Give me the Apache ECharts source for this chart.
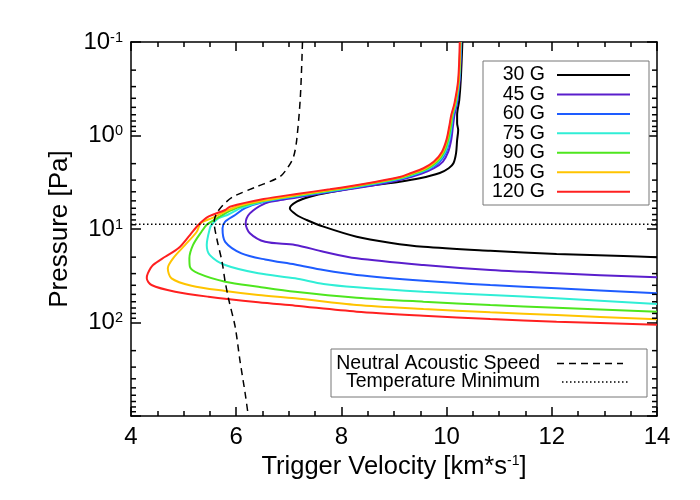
<!DOCTYPE html>
<html><head><meta charset="utf-8">
<script src="https://cdn.jsdelivr.net/npm/echarts@6/dist/echarts.min.js"></script>
<style>html,body{margin:0;padding:0;background:#fff}#c{width:700px;height:500px}</style>
</head><body><div id="c"></div>
<script>
// ---- data (velocity km/s, pressure Pa) ----
const fieldLabels = ['30 G','45 G','60 G','75 G','90 G','105 G','120 G'];
const fieldColors = ['#000000','#5a1ecc','#1e5cff','#30eed6','#4ee61e','#ffc400','#ff2020'];
const xTickValues = [4,6,8,10,12,14];
const yDecades = [0.1,1,10,100,1000];

const curve30 = [[10.30,0.1],[10.27,0.25],[10.24,0.42],[10.20,0.6],[10.20,0.74],[10.22,0.873],[10.20,1.12],[10.18,1.54],[10.13,1.98],[10.04,2.24],[9.87,2.52],[9.49,2.87],[9.11,3.12],[8.42,3.51],[7.78,4.05],[7.40,4.52],[7.15,5.11],[7.02,6.01],[7.15,7.09],[7.34,8.01],[7.66,9.44],[8.29,12.1],[8.92,14.0],[9.56,15.5],[10.83,17.1],[12.09,18.5],[13.36,19.4],[14.0,20.1]];
const curve45 = [[10.28,0.1],[10.25,0.255],[10.20,0.45],[10.15,0.6],[10.12,0.8],[10.09,1.1],[10.03,1.5],[9.93,1.9],[9.76,2.24],[9.53,2.55],[9.11,2.99],[8.42,3.56],[7.78,4.02],[7.15,4.6],[6.80,4.95],[6.55,5.31],[6.26,6.80],[6.18,8.69],[6.26,11.1],[6.55,13.7],[7.12,14.8],[7.66,17.5],[8.29,20.6],[9.56,24.3],[10.83,27.5],[12.09,29.8],[14.0,32.9]];
const curve60 = [[10.27,0.1],[10.24,0.255],[10.19,0.45],[10.13,0.6],[10.10,0.8],[10.06,1.1],[9.99,1.5],[9.87,1.9],[9.70,2.24],[9.46,2.55],[9.11,2.92],[8.42,3.47],[7.78,3.97],[7.15,4.48],[6.52,5.14],[6.17,5.96],[5.98,7.09],[5.79,8.35],[5.74,9.84],[5.79,13.7],[6.10,18.2],[6.55,21.2],[7.12,24.0],[7.66,27.5],[8.29,31.0],[9.56,35.7],[10.83,39.7],[12.09,43.1],[14.0,48.8]];
const curve75 = [[10.27,0.1],[10.24,0.255],[10.18,0.45],[10.12,0.6],[10.09,0.8],[10.05,1.1],[9.97,1.5],[9.84,1.9],[9.67,2.24],[9.42,2.55],[9.11,2.88],[8.42,3.43],[7.78,3.93],[7.15,4.43],[6.52,5.08],[6.10,5.95],[5.85,7.0],[5.66,7.69],[5.54,8.9],[5.50,9.84],[5.44,14.8],[5.50,19.0],[5.79,24.3],[6.42,29.8],[7.12,33.7],[7.66,38.7],[8.29,42.0],[9.56,46.9],[10.83,50.8],[12.09,55.1],[14.0,63.4]];
const curve90 = [[10.26,0.1],[10.23,0.255],[10.17,0.45],[10.11,0.6],[10.08,0.8],[10.03,1.1],[9.95,1.5],[9.82,1.9],[9.64,2.24],[9.38,2.55],[9.11,2.85],[8.42,3.38],[7.78,3.87],[7.15,4.38],[6.52,5.0],[6.07,5.8],[5.80,6.75],[5.60,7.9],[5.45,8.9],[5.34,10.7],[5.18,14.8],[5.11,20.6],[5.12,25.3],[5.28,29.8],[5.79,36.6],[6.42,41.4],[7.12,46.9],[8.29,54.3],[9.56,59.9],[10.83,65.0],[12.09,69.5],[14.0,76.6]];
const curve105 = [[10.26,0.1],[10.23,0.255],[10.16,0.45],[10.10,0.6],[10.06,0.8],[10.01,1.1],[9.93,1.5],[9.79,1.9],[9.60,2.24],[9.34,2.55],[9.11,2.81],[8.42,3.34],[7.78,3.83],[7.15,4.33],[6.52,4.95],[6.07,5.61],[5.79,6.5],[5.55,7.6],[5.37,8.35],[5.31,8.9],[5.25,10.7],[5.03,14.8],[4.80,20.6],[4.70,26.3],[4.77,33.7],[5.15,40.4],[5.79,46.0],[6.42,50.8],[7.12,55.1],[8.29,65.0],[9.56,71.7],[10.83,77.8],[12.09,83.2],[14.0,92.5]];
const curve120 = [[10.25,0.1],[10.22,0.255],[10.15,0.45],[10.09,0.6],[10.05,0.8],[10.00,1.1],[9.91,1.5],[9.76,1.9],[9.56,2.24],[9.30,2.55],[9.11,2.78],[8.42,3.30],[7.78,3.76],[7.15,4.22],[6.52,4.78],[5.88,5.77],[5.79,6.26],[5.47,7.39],[5.28,9.06],[5.12,11.6],[4.90,16.1],[4.65,19.8],[4.42,24.3],[4.32,29.8],[4.30,33.7],[4.39,39.7],[4.84,46.9],[5.47,53.0],[6.42,60.8],[7.12,66.1],[8.29,76.6],[9.56,84.6],[10.83,91.8],[12.09,98.0],[14.0,106]];
const fieldCurves = [curve30,curve45,curve60,curve75,curve90,curve105,curve120];

const acousticSpeed = [[7.26,0.1],[7.22,0.385],[7.15,1.12],[7.09,1.69],[6.99,2.16],[6.83,2.76],[6.39,3.53],[5.94,4.52],[5.75,5.54],[5.63,6.79],[5.58,8.36],[5.63,12.6],[5.73,22.3],[5.79,36.6],[5.86,57.5],[5.98,111],[6.07,252],[6.17,571],[6.23,1000]];
const tempMinPressure = 8.9;
const tempMinLine = [[4,tempMinPressure],[14,tempMinPressure]];

// minor log ticks (axis decoration)
const yMinorTicks = [];
[0.1,1,10,100].forEach(d => { for (let m=2;m<=9;m++) yMinorTicks.push([4, +(d*m).toPrecision(3)]); });

const FONT = '"Liberation Sans", Arial, Helvetica, sans-serif';
const axisCommon = {
  axisLine:{show:true,onZero:false,lineStyle:{color:'#000',width:1.5}},
  axisTick:{show:true,inside:true,length:9,lineStyle:{color:'#000',width:1.5}},
  splitLine:{show:false}
};
const yTick = {show:true,inside:true,length:10,lineStyle:{color:'#000',width:1.5}};

const series = fieldCurves.map((c,i)=>({
  type:'line', name:fieldLabels[i], data:c, showSymbol:false, smooth:0.3,
  lineStyle:{color:fieldColors[i],width:2}, z:2+i
}));
series.push({type:'line',name:'Neutral Acoustic Speed',data:acousticSpeed,showSymbol:false,smooth:0.3,
  lineStyle:{color:'#000',width:1.5,type:[7,5]},z:20});
series.push({type:'line',name:'Temperature Minimum',data:tempMinLine,showSymbol:false,
  lineStyle:{color:'#000',width:1.5,type:[1.5,2.5]},z:20});
series.push({type:'custom',data:yMinorTicks,clip:false,silent:true,z:30,
  renderItem:function(params,api){
    const v=api.value(1);
    const pl=api.coord([4,v]); const pr=api.coord([14,v]);
    return {type:'group',children:[
      {type:'line',shape:{x1:pl[0],y1:pl[1],x2:pl[0]+5,y2:pl[1]},style:{stroke:'#000',lineWidth:1.5}},
      {type:'line',shape:{x1:pr[0]-5,y1:pr[1],x2:pr[0],y2:pr[1]},style:{stroke:'#000',lineWidth:1.5}}
    ]};
  }});

// legends (drawn as graphic)
const g = [];
const lg1 = {x:483,y:61,w:166,h:144,textX:545,lineX1:557,lineX2:630,rowY0:75,rowDy:19.45};
g.push({type:'rect',shape:{x:lg1.x,y:lg1.y,width:lg1.w,height:lg1.h},style:{fill:'#fff',stroke:'#777',lineWidth:1},z:100});
fieldLabels.forEach((t,i)=>{
  const y = lg1.rowY0 + i*lg1.rowDy;
  g.push({type:'text',x:lg1.textX,y:y,style:{text:t,fill:'#000',fontSize:19.5,fontFamily:FONT,align:'right',verticalAlign:'middle'},z:101});
  g.push({type:'line',shape:{x1:lg1.lineX1,y1:y,x2:lg1.lineX2,y2:y},style:{stroke:fieldColors[i],lineWidth:2},z:101});
});
g.push({type:'rect',shape:{x:331,y:349,width:316,height:48},style:{fill:'#fff',stroke:'#777',lineWidth:1},z:100});
g.push({type:'text',x:540,y:363.5,style:{text:'Neutral Acoustic Speed',fill:'#000',fontSize:19.5,fontFamily:FONT,align:'right',verticalAlign:'middle'},z:101});
g.push({type:'text',x:540,y:382,style:{text:'Temperature Minimum',fill:'#000',fontSize:19.5,fontFamily:FONT,align:'right',verticalAlign:'middle'},z:101});
g.push({type:'line',shape:{x1:557,y1:363.5,x2:623,y2:363.5},style:{stroke:'#000',lineWidth:1.5,lineDash:[7,5]},z:101});
g.push({type:'line',shape:{x1:562,y1:382,x2:628,y2:382},style:{stroke:'#000',lineWidth:1.5,lineDash:[1.5,2.5]},z:101});

function yLabel(v){
  const k = Math.round(Math.log10(v));
  if (k >= 3) return '';
  return '10{sup|' + k + '}';
}

const option = {
  backgroundColor:'#fff',
  animation:false,
  textStyle:{fontFamily:FONT},
  grid:{left:131,right:43,top:42,bottom:84,containLabel:false},
  xAxis:[
    Object.assign({type:'value',position:'bottom',min:4,max:14,interval:2,
      minorTick:{show:true,splitNumber:4,length:5,lineStyle:{color:'#000',width:1.5}},
      axisLabel:{fontSize:24,color:'#000',margin:9,fontFamily:FONT},
      name:'Trigger Velocity [km*s{sup|-1}]',nameLocation:'middle',nameGap:36,
      nameTextStyle:{fontSize:25.5,color:'#000',fontFamily:FONT,
        rich:{sup:{fontSize:14,verticalAlign:'top',lineHeight:14,fontFamily:FONT,color:'#000'}}}
    },axisCommon),
    Object.assign({type:'value',position:'top',min:4,max:14,interval:2,
      minorTick:{show:true,splitNumber:4,length:5,lineStyle:{color:'#000',width:1.5}},
      axisLabel:{show:false}},axisCommon)
  ],
  yAxis:[
    Object.assign({type:'log',logBase:10,position:'left',min:0.1,max:1000,inverse:true,
      axisLabel:{color:'#000',margin:8,formatter:yLabel,
        rich:{sup:{fontSize:14.5,verticalAlign:'top',lineHeight:14,fontFamily:FONT,color:'#000'}},
        fontSize:24,fontFamily:FONT},
      name:'Pressure [Pa]',nameLocation:'middle',nameGap:55,nameRotate:90,
      nameTextStyle:{fontSize:26,color:'#000',fontFamily:FONT}
    },Object.assign({},axisCommon,{axisTick:yTick})),
    Object.assign({type:'log',logBase:10,position:'right',min:0.1,max:1000,inverse:true,
      axisLabel:{show:false}},Object.assign({},axisCommon,{axisTick:yTick}))
  ],
  series: series,
  graphic:{elements:g}
};
const chart = echarts.init(document.getElementById('c'),null,{renderer:'canvas'});
chart.setOption(option);
</script></body></html>
